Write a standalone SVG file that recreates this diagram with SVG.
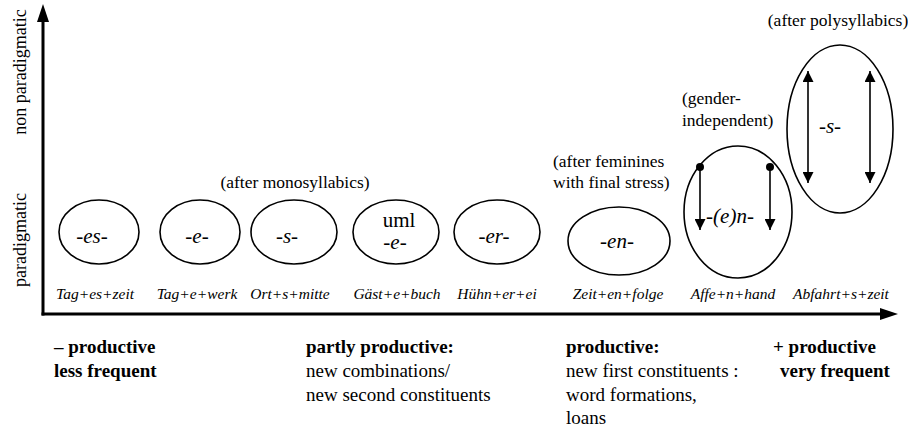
<svg xmlns="http://www.w3.org/2000/svg" width="908" height="429" viewBox="0 0 908 429">
<style>
text{fill:#000}
.ell{fill:none;stroke:#000;stroke-width:1.6}
.suf{font-size:21px;font-style:italic;text-anchor:middle}
.ex{font-size:15.5px;font-style:italic;text-anchor:middle}
.note{font-size:17.5px}
.lab{font-size:19px}
.b{font-weight:bold}
.axis{stroke:#000;stroke-width:3;fill:none}
.arr{stroke:#000;stroke-width:1.6;fill:none}
</style>
<defs>
<marker id="ah" viewBox="0 0 10 10" refX="10" refY="5" markerWidth="11" markerHeight="11" markerUnits="userSpaceOnUse" orient="auto-start-reverse">
<path d="M0,0 L10,5 L0,10 Z" fill="#000"/>
</marker>
<marker id="dot" viewBox="0 0 6 6" refX="3" refY="3" markerWidth="8" markerHeight="8" markerUnits="userSpaceOnUse">
<circle cx="3" cy="3" r="3" fill="#000"/>
</marker>
</defs>
<rect width="908" height="429" fill="#fff"/>
<g font-family="Liberation Serif, DejaVu Serif, serif">
<g id="axes">
<line class="axis" x1="43" y1="315.5" x2="43" y2="20"/>
<polygon points="43,4 37,22 49,22" fill="#000"/>
<line class="axis" x1="41.5" y1="314" x2="882" y2="314"/>
<polygon points="898,314 880,308 880,320" fill="#000"/>
<text x="26" y="72" font-size="18" transform="rotate(-90 26 72)" text-anchor="middle">non paradigmatic</text>
<text x="26" y="240" font-size="18" transform="rotate(-90 26 240)" text-anchor="middle">paradigmatic</text>
</g>

<g id="n-es">
<ellipse class="ell" cx="99" cy="232" rx="40" ry="32"/>
<text class="suf" x="92" y="243">-es-</text>
<text class="ex" x="95" y="299">Tag+es+zeit</text>
</g>
<g id="n-e">
<ellipse class="ell" cx="200" cy="232" rx="40" ry="32"/>
<text class="suf" x="197" y="243">-e-</text>
<text class="ex" x="197" y="299">Tag+e+werk</text>
</g>
<g id="n-s1">
<ellipse class="ell" cx="294" cy="232" rx="43" ry="32"/>
<text class="suf" x="287" y="243">-s-</text>
<text class="ex" x="290" y="299">Ort+s+mitte</text>
</g>
<g id="n-uml">
<ellipse class="ell" cx="396" cy="232" rx="43" ry="32"/>
<text x="399" y="227" font-size="21" text-anchor="middle">uml</text>
<text class="suf" x="395" y="249">-e-</text>
<text class="ex" x="397" y="299">Gäst+e+buch</text>
</g>
<g id="n-er">
<ellipse class="ell" cx="497" cy="232" rx="43" ry="32"/>
<text class="suf" x="494" y="243">-er-</text>
<text class="ex" x="497" y="299">Hühn+er+ei</text>
</g>
<g id="n-en">
<ellipse class="ell" cx="619" cy="241" rx="51" ry="34"/>
<text class="suf" x="617" y="248">-en-</text>
<text class="ex" x="618" y="299">Zeit+en+folge</text>
</g>
<g id="n-eN">
<ellipse class="ell" cx="738" cy="212" rx="54" ry="66"/>
<text class="suf" x="730" y="223">-(e)n-</text>
<text class="ex" x="733" y="299">Affe+n+hand</text>
</g>
<g id="n-s2">
<ellipse class="ell" cx="840" cy="129" rx="53" ry="84"/>
<text class="suf" x="830" y="133">-s-</text>
<text class="ex" x="841" y="299">Abfahrt+s+zeit</text>
</g>

<g id="connectors">
<line class="arr" x1="700" y1="167" x2="700" y2="230" marker-start="url(#dot)" marker-end="url(#ah)"/>
<line class="arr" x1="770" y1="167" x2="770" y2="230" marker-start="url(#dot)" marker-end="url(#ah)"/>
<line class="arr" x1="808" y1="71" x2="808" y2="183" marker-start="url(#ah)" marker-end="url(#ah)"/>
<line class="arr" x1="870" y1="71" x2="870" y2="183" marker-start="url(#ah)" marker-end="url(#ah)"/>
</g>

<g id="notes">
<text class="note" x="295" y="188" text-anchor="middle">(after monosyllabics)</text>
<text class="note" x="553" y="167">(after feminines</text>
<text class="note" x="553" y="188">with final stress)</text>
<text class="note" x="682" y="104">(gender-</text>
<text class="note" x="682" y="126">independent)</text>
<text class="note" x="838" y="26" text-anchor="middle">(after polysyllabics)</text>
</g>

<g id="scale">
<text class="lab b" x="54" y="353">– productive</text>
<text class="lab b" x="54" y="377">less frequent</text>
<text class="lab b" x="306" y="353">partly productive:</text>
<text class="lab" x="306" y="377">new combinations/</text>
<text class="lab" x="306" y="401">new second constituents</text>
<text class="lab b" x="566" y="353">productive:</text>
<text class="lab" x="566" y="377">new first constituents :</text>
<text class="lab" x="566" y="401">word formations,</text>
<text class="lab" x="566" y="424">loans</text>
<text class="lab b" x="773" y="353">+ productive</text>
<text class="lab b" x="780" y="377">very frequent</text>
</g>
</g>
</svg>
